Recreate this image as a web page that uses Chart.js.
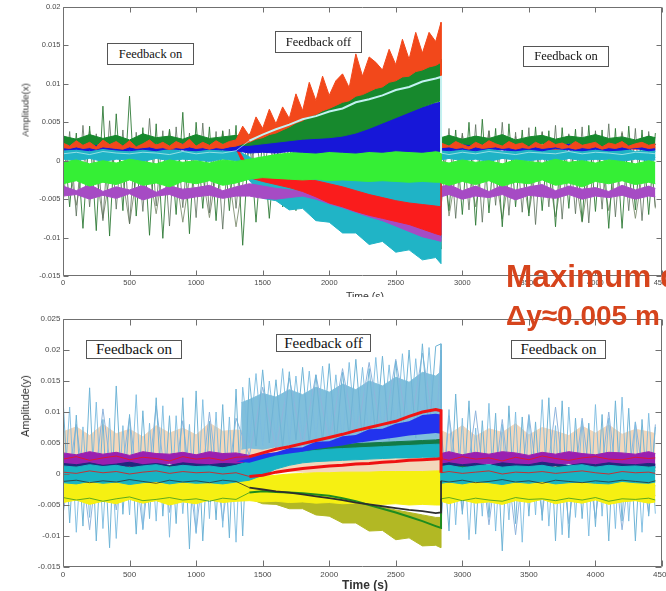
<!DOCTYPE html>
<html>
<head>
<meta charset="utf-8">
<script src="https://cdn.jsdelivr.net/npm/chart.js@4.4.0/dist/chart.umd.min.js"></script>
<style>
  html, body { margin: 0; padding: 0; background: #fff; }
  #page { position: relative; width: 666px; height: 591px; overflow: hidden; background: #fff;
          font-family: "Liberation Sans", Arial, sans-serif; }
  .panel { position: absolute; left: 0; width: 666px; }
  #topPanel { top: 0; height: 300px; z-index: 1; }
  #botPanel { top: 297px; height: 294px; z-index: 3; background: #fff; }
  .ylab { position: absolute; transform: translate(-50%, -50%) rotate(-90deg); white-space: nowrap; color: #333; }
  .note { position: absolute; box-sizing: border-box; border: 1px solid #555; background: #fff;
          font-family: "Liberation Serif", "Times New Roman", serif; color: #111;
          display: flex; align-items: center; justify-content: center; white-space: nowrap; }
  .red { position: absolute; color: #d6441c; font-weight: bold; white-space: nowrap; line-height: 1; z-index: 10; }
</style>
</head>
<body>
<div id="page">
  <div class="panel" id="topPanel"><canvas id="topChart"></canvas></div>
  <div class="ylab" style="left:25px;top:110px;font-size:9.5px;z-index:2">Amplitude(x)</div>
  <div style="position:absolute;left:365px;top:291px;transform:translateX(-50%);font-size:10.5px;line-height:1;color:#333;z-index:2">Time (s)</div>
  <div class="note" style="left:107px;top:43px;width:87px;height:22px;font-size:12.5px;z-index:2">Feedback on</div>
  <div class="note" style="left:275px;top:31px;width:87px;height:22px;font-size:12.5px;z-index:2">Feedback off</div>
  <div class="note" style="left:523px;top:46px;width:86px;height:21px;font-size:12.5px;z-index:2">Feedback on</div>

  <div class="panel" id="botPanel"><canvas id="botChart"></canvas></div>
  <div class="ylab" style="left:25px;top:406px;font-size:11px;z-index:4">Amplitude(y)</div>
  <div style="position:absolute;left:365px;top:579px;transform:translateX(-50%);font-size:12px;font-weight:bold;line-height:1;color:#333;z-index:4">Time (s)</div>
  <div class="note" style="left:86px;top:340px;width:96px;height:19px;font-size:15px;z-index:4">Feedback on</div>
  <div class="note" style="left:276px;top:334px;width:95px;height:18px;font-size:15px;z-index:4">Feedback off</div>
  <div class="note" style="left:511px;top:340px;width:95px;height:19px;font-size:15px;z-index:4">Feedback on</div>

  <div class="red" style="left:506px;top:261px;font-size:31.5px">Maximum deviation</div>
  <div class="red" style="left:506px;top:302px;font-size:28px">Δy≈0.005 m</div>
</div>

<script>
// time grids (s); 2840 appears twice: last point with feedback off, first point with feedback on again
const tFine = [0,50,100,150,200,250,300,350,400,450,500,550,600,650,700,750,800,850,900,950,1000,1050,1100,1150,1200,1250,1300,
  1350,1400,1450,1500,1550,1600,1650,1700,1750,1800,1850,1900,1950,2000,2050,2100,2150,2200,2250,2300,2350,2400,2450,2500,2550,2600,2650,2700,2750,2800,2840,
  2840,2900,2950,3000,3050,3100,3150,3200,3250,3300,3350,3400,3450,3500,3550,3600,3650,3700,3750,3800,3850,3900,3950,4000,4050,4100,4150,4200,4250,4300,4350,4400,4450];
const tCoarse = [0,100,200,300,400,500,600,700,800,900,1000,1100,1200,1300,
  1400,1500,1600,1700,1800,1900,2000,2100,2200,2300,2400,2500,2600,2700,2800,2840,
  2840,2900,3000,3100,3200,3300,3400,3500,3600,3700,3800,3900,4000,4100,4200,4300,4400,4450];
const tSky = [1340,1400,1500,1600,1700,1800,1900,2000,2100,2200,2300,2400,2500,2600,2700,2800,2840];

// axis ticks
const xTicks = [0,500,1000,1500,2000,2500,3000,3500,4000,4500];
const xTickLabels = ['0','500','1000','1500','2000','2500','3000','3500','4000','4500'];
const yTicksTop = [-15,-10,-5,0,5,10,15,20];
const yLabelsTop = ['-0.015','-0.01','-0.005','0','0.005','0.01','0.015','0.02'];
const yTicksBot = [-15,-10,-5,0,5,10,15,20,25];
const yLabelsBot = ['-0.015','-0.01','-0.005','0','0.005','0.01','0.015','0.02','0.025'];

// ---- Amplitude(x), values in 1e-3 ----
const paleX = [0.9,1.1,0.8,1.2,1.0,0.9,1.1,1.0,0.8,1.2,0.9,1.1,1.0,1.3,
  2.6,3.4,4.1,4.7,5.4,5.8,6.4,6.8,7.6,8.0,8.5,9.2,9.6,10.3,10.7,10.9,
  1.0,0.8,1.1,0.9,1.2,1.0,0.8,1.1,1.0,0.9,1.2,0.9,1.1,1.0,0.8,1.1,1.0,0.9];
const orangeHiX = [2.3,1.9,2.6,2.0,2.4,1.8,2.7,2.1,2.5,1.9,2.6,1.8,2.2,2.7,2.0,2.4,1.9,2.5,2.1,2.8,1.9,2.4,2.0,2.6,2.1,2.5,2.7,
  4.5,3.2,5.7,4.2,6.7,4.8,7.0,5.5,8.7,6.5,10.2,7.8,11.0,8.5,10.4,11.3,9.5,13.9,11.0,13.5,12.8,11.8,14.5,12.5,15.8,13.2,16.7,14.0,16.7,15.5,18.0,
  2.3,1.9,2.5,2.1,1.8,2.4,2.0,2.6,2.2,1.9,2.5,2.1,2.3,1.8,2.4,2.0,2.6,2.1,2.3,1.9,2.5,2.0,2.2,2.4,1.8,2.3,2.1,2.5,1.9,2.2,2.4,2.0,2.2];
const orangeLoX = [1.7,1.6,1.8,1.6,1.7,1.5,1.8,1.7,1.6,1.5,1.8,1.6,1.7,1.8,1.6,1.7,1.5,1.7,1.6,1.8,1.6,1.7,1.5,1.7,1.6,1.8,1.9,
  2.2,2.4,2.8,3.0,3.4,3.6,4.0,4.4,4.9,5.2,5.8,6.0,6.5,6.8,7.2,7.6,7.8,8.4,8.6,9.0,9.4,9.6,10.2,10.4,10.9,11.0,11.6,11.8,12.2,12.4,12.8,
  1.7,1.8,1.6,1.7,1.5,1.8,1.6,1.7,1.8,1.6,1.7,1.5,1.7,1.6,1.8,1.6,1.7,1.8,1.6,1.7,1.5,1.7,1.6,1.8,1.5,1.7,1.6,1.8,1.6,1.7,1.8,1.6,1.7];
const greenHiX = [3.2,2.8,3.4,2.9,3.3,2.7,3.5,3.0,3.2,2.8,3.4,2.9,3.1,3.3,
  2.9,3.5,4.1,4.9,5.7,6.5,7.3,8.1,8.9,9.5,10.1,10.9,11.5,12.3,12.9,13.2,
  3.0,3.3,2.8,3.2,2.9,3.4,2.7,3.1,3.3,2.8,3.2,3.0,3.4,2.9,3.1,2.7,3.2,3.0];
const greenLoX = [2.0,2.2,1.9,2.3,2.0,2.1,1.8,2.2,2.0,2.3,1.9,2.1,2.2,2.0,
  2.0,2.2,2.4,2.6,2.8,2.9,3.0,3.2,3.6,4.2,4.9,5.6,6.3,7.0,7.6,7.8,
  2.1,1.9,2.2,2.0,2.3,1.8,2.1,2.0,2.2,1.9,2.3,2.0,2.1,1.8,2.2,2.0,1.9,2.1];
const blueHiX = [2.1,1.9,2.3,1.8,2.2,2.0,2.3,1.9,2.1,2.2,1.8,2.2,2.0,2.1,
  2.6,2.8,2.9,3.0,3.1,3.2,3.3,3.4,3.8,4.4,5.0,5.7,6.4,7.0,7.5,7.6,
  2.2,1.9,2.1,2.3,1.8,2.2,2.0,2.3,1.9,2.1,2.2,2.0,2.2,1.8,2.1,2.3,1.9,2.1];
const blueLoX = [1.4,1.5,1.3,1.6,1.4,1.3,1.5,1.3,1.6,1.4,1.3,1.5,1.4,1.3,
  1.0,1.1,1.0,1.2,1.1,1.0,1.2,1.1,1.0,1.2,1.1,1.3,1.2,1.1,1.3,1.2,
  1.4,1.3,1.5,1.3,1.6,1.4,1.3,1.5,1.3,1.6,1.4,1.3,1.5,1.3,1.4,1.6,1.3,1.4];
const yellowHiX = [2.0,1.9,2.1,1.8,2.0,2.1,1.9,2.0,1.8,2.1,2.0,1.9,2.1,2.0,
  2.0,2.1,2.3,2.5,2.7,2.9,3.0,3.1,3.2,3.3,3.4,3.3,3.5,3.6,3.7,3.7,
  2.0,1.9,2.1,2.0,1.8,2.1,1.9,2.0,2.1,1.8,2.0,1.9,2.1,2.0,1.9,2.1,2.0,1.9];
const yellowLoX = [1.7,1.6,1.8,1.6,1.7,1.8,1.6,1.7,1.6,1.8,1.7,1.6,1.8,1.7,
  1.5,1.5,1.6,1.7,1.8,1.8,1.9,2.0,2.0,2.1,2.0,2.2,2.3,2.4,2.5,2.5,
  1.7,1.6,1.8,1.7,1.6,1.8,1.6,1.7,1.8,1.6,1.7,1.6,1.8,1.7,1.6,1.8,1.7,1.6];
const limeHiX = [-0.2,0.1,-0.4,0.0,-0.3,0.2,-0.1,-0.4,0.1,-0.2,0.0,-0.3,0.1,-0.1,
  0.2,0.5,0.8,1.0,1.2,1.3,1.2,1.4,1.3,1.5,1.4,1.5,1.4,1.6,1.5,1.5,
  -0.1,-0.3,0.1,-0.2,0.0,-0.4,0.1,-0.1,-0.3,0.2,-0.2,0.0,-0.3,0.1,-0.1,-0.4,0.0,-0.2];
const limeLoX = [-3.0,-2.6,-3.3,-2.8,-3.1,-2.5,-3.2,-2.9,-3.4,-2.7,-3.0,-2.6,-3.2,-2.9,
  -2.4,-2.2,-2.3,-2.4,-2.5,-2.4,-2.6,-2.5,-2.6,-2.7,-2.6,-2.7,-2.8,-2.7,-2.8,-2.8,
  -2.9,-3.2,-2.7,-3.1,-2.6,-3.3,-2.8,-3.0,-2.5,-3.2,-2.9,-3.4,-2.7,-3.0,-2.6,-3.1,-2.8,-3.0];
const redHiX = [2.0,1.8,2.1,1.9,2.2,1.8,2.0,2.1,1.9,2.2,1.8,2.0,2.1,1.9,
  -1.0,-1.4,-1.8,-2.0,-2.3,-2.6,-3.0,-3.4,-3.9,-4.4,-4.8,-5.2,-5.5,-5.7,-5.9,-6.0,
  1.9,2.1,1.8,2.0,2.2,1.9,2.1,1.8,2.0,2.2,1.9,2.0,2.1,1.8,2.2,1.9,2.0,2.1];
const redLoX = [1.5,1.6,1.5,1.6,1.5,1.6,1.5,1.6,1.5,1.6,1.5,1.6,1.5,1.6,
  -2.2,-2.7,-3.1,-3.5,-4.0,-4.7,-5.5,-6.0,-6.6,-7.1,-7.5,-7.9,-8.3,-8.9,-9.5,-9.7,
  1.6,1.5,1.6,1.5,1.6,1.5,1.6,1.5,1.6,1.5,1.6,1.5,1.6,1.5,1.6,1.5,1.6,1.5];
const cyanMidHiX = [1.2,1.4,1.1,1.5,1.3,1.1,1.4,1.2,1.5,1.1,1.3,1.4,1.2,1.3,
  -1.6,-2.0,-2.0,-2.1,-2.1,-2.2,-2.2,-2.3,-2.3,-2.4,-2.4,-2.5,-2.5,-2.6,-2.6,-2.6,
  1.3,1.1,1.4,1.2,1.5,1.1,1.3,1.4,1.2,1.5,1.1,1.3,1.4,1.2,1.5,1.1,1.3,1.2];
const cyanMidLoX = [0.4,0.2,0.5,0.1,0.4,0.3,0.1,0.5,0.2,0.4,0.3,0.1,0.4,0.2,
  -2.6,-2.8,-3.0,-3.2,-3.4,-3.6,-3.8,-4.0,-4.2,-4.6,-5.0,-5.3,-5.6,-5.9,-6.2,-6.3,
  0.3,0.5,0.2,0.4,0.1,0.3,0.5,0.2,0.4,0.1,0.3,0.5,0.2,0.4,0.1,0.3,0.2,0.4];
const magentaHiX = [-3.3,-3.9,-3.1,-4.0,-3.4,-3.8,-3.2,-4.1,-3.3,-3.7,-3.5,-3.2,-3.9,-3.4,
  -3.0,-3.3,-3.6,-3.8,-4.0,-4.6,-5.3,-5.8,-6.4,-7.0,-7.4,-7.8,-8.0,-8.2,-8.4,-8.5,
  -3.4,-3.1,-3.9,-3.3,-4.0,-3.2,-3.8,-3.4,-3.1,-3.9,-3.3,-3.7,-3.5,-4.0,-3.2,-3.8,-3.3,-3.6];
const magentaLoX = [-4.6,-4.4,-5.0,-4.5,-4.9,-4.3,-5.1,-4.6,-4.4,-5.0,-4.7,-4.5,-4.9,-4.6,
  -4.6,-4.9,-5.0,-4.8,-4.6,-5.0,-5.6,-6.1,-6.7,-7.3,-7.8,-8.5,-9.2,-9.9,-10.3,-10.5,
  -4.7,-4.4,-5.0,-4.6,-4.8,-4.4,-5.1,-4.5,-4.7,-4.9,-4.4,-5.0,-4.6,-4.8,-4.5,-5.0,-4.6,-4.7];
const tealHiX = [1.3,1.5,1.2,1.6,1.4,1.2,1.5,1.3,1.6,1.2,1.4,1.5,1.3,1.4,
  0.5,-1.0,-2.2,-3.0,-3.6,-4.3,-5.0,-5.6,-6.3,-6.9,-7.4,-7.8,-8.3,-8.9,-9.5,-9.8,
  1.4,1.2,1.5,1.3,1.6,1.2,1.4,1.5,1.3,1.6,1.2,1.4,1.5,1.3,1.6,1.2,1.4,1.3];
const tealLoX = [0.2,0.0,0.3,-0.1,0.2,0.1,-0.1,0.3,0.0,0.2,0.1,-0.1,0.2,0.0,
  -2.5,-4.9,-5.2,-6.4,-6.2,-7.8,-8.0,-9.4,-9.4,-10.9,-10.5,-11.9,-11.6,-12.9,-12.6,-13.4,
  0.1,0.3,0.0,0.2,-0.1,0.3,0.1,0.0,0.2,-0.1,0.3,0.0,0.2,0.1,-0.1,0.2,0.0,0.1];
const spikeX = [4.2,-6.0,3.6,-8.8,4.5,-9.1,7.1,-9.8,6.1,-6.5,8.4,-7.2,4.3,-9.7,4.8,-10.1,4.1,-7.0,6.3,-9.5,5.0,-6.2,4.4,-7.8,3.9,-6.5,4.6,
  -11.0,3.5,-8.0,3.0,-7.5,3.2,-6.0,3.0,-6.5,3.0,-6.0,2.8,-6.5,3.0,-7.0,3.0,-8.0,3.0,-8.5,3.0,-9.0,3.0,-9.5,3.0,-10.0,3.0,-10.5,3.0,-11.0,3.0,-11.5,
  3.8,-6.5,4.0,-7.0,5.0,-8.4,5.4,-6.8,4.2,-8.6,4.8,-6.0,4.0,-7.2,4.4,-6.5,3.9,-8.6,4.3,-6.2,4.1,-7.9,4.6,-6.6,4.0,-8.8,4.2,-8.8,4.5,-6.4,4.0,-7.0,3.6];
const spike2X = [3.4,-5.8,3.9,-7.5,3.2,-8.2,3.6,-6.9,4.0,-8.0,3.3,-7.4,3.8,-8.6,
  2.5,-4.5,2.5,-5.0,2.5,-5.5,2.5,-6.0,2.5,-7.0,2.5,-8.0,2.5,-9.0,2.5,-10.0,
  3.5,-7.2,3.4,-6.0,3.9,-7.6,3.2,-6.8,3.7,-7.3,3.3,-8.0,3.6,-6.5,3.8,-7.5,3.4,-6.2];
const spike3X = [-5.6,3.8,-7.2,4.6,-6.0,3.5,-7.8,5.2,-6.3,4.0,-8.2,3.7,-6.6,5.5,-5.9,3.9,-8.5,4.4,-6.1,3.6,-7.4,4.9,-6.8,3.8,-8.9,4.1,-6.2,
  3.0,-2.0,2.8,-2.5,3.0,-3.0,3.2,-3.2,3.5,-3.5,3.8,-4.0,4.0,-4.5,4.2,-5.0,4.5,-5.5,4.8,-6.0,5.0,-6.5,5.5,-7.0,6.0,-7.5,6.5,-8.0,7.0,-8.5,7.5,
  -6.0,4.2,-7.5,3.6,-6.4,4.7,-8.0,3.9,-5.8,5.0,-7.1,3.7,-6.7,4.3,-8.3,3.8,-6.0,4.6,-7.6,3.5,-6.9,4.4,-8.1,3.9,-6.3,4.8,-7.3,3.6,-6.5,4.2,-7.8,3.8,-6.0];

// ---- Amplitude(y), values in 1e-3 ----
const upperRedY = [2.4,2.8,2.2,2.6,2.9,2.3,2.7,2.5,2.1,2.8,2.4,2.6,2.2,2.7,
  2.8,3.4,4.0,4.4,4.9,5.4,5.9,6.4,7.0,7.5,8.0,8.5,9.3,10.0,10.4,10.2,
  2.5,2.2,2.8,2.4,2.6,2.1,2.7,2.3,2.9,2.5,2.2,2.6,2.8,2.4,2.3,2.7,2.5,2.6];
const blueHiY = [2.0,2.0,2.0,2.0,2.0,2.0,2.0,2.0,2.0,2.0,2.0,2.0,2.0,2.0,
  2.5,3.2,3.5,4.2,4.3,5.2,5.3,6.1,6.3,7.2,7.3,8.1,8.5,9.5,9.7,9.6,
  2.0,2.0,2.0,2.0,2.0,2.0,2.0,2.0,2.0,2.0,2.0,2.0,2.0,2.0,2.0,2.0,2.0,2.0];
const blueLoY = [2.0,2.0,2.0,2.0,2.0,2.0,2.0,2.0,2.0,2.0,2.0,2.0,2.0,2.0,
  1.8,2.4,3.0,3.3,3.6,4.0,4.3,4.6,5.0,5.3,5.6,5.9,6.2,6.4,6.6,6.5,
  2.0,2.0,2.0,2.0,2.0,2.0,2.0,2.0,2.0,2.0,2.0,2.0,2.0,2.0,2.0,2.0,2.0,2.0];
const lowerRedY = [0.3,0.1,0.5,0.2,0.4,0.0,0.3,0.5,0.1,0.4,0.2,0.3,0.0,0.2,
  -0.4,-0.2,0.3,0.6,0.9,1.1,1.3,1.4,1.6,1.7,1.9,2.0,2.2,2.3,2.4,2.5,
  0.2,0.4,0.1,0.3,0.5,0.0,0.3,0.2,0.4,0.1,0.3,0.5,0.2,0.0,0.4,0.2,0.3,0.1];
const darkY = [-1.2,-1.0,-1.4,-1.1,-1.3,-0.9,-1.2,-1.5,-1.0,-1.3,-1.1,-1.4,-1.0,-1.2,
  -2.2,-2.5,-2.8,-3.0,-3.3,-3.6,-3.9,-4.2,-4.6,-4.9,-5.2,-5.5,-5.8,-6.0,-6.3,-6.2,
  -1.1,-1.3,-1.0,-1.4,-1.2,-0.9,-1.3,-1.1,-1.5,-1.0,-1.2,-1.4,-1.1,-1.3,-1.0,-1.2,-1.4,-1.1];
const greenY = [-3.8,-4.2,-3.9,-4.4,-4.0,-3.7,-4.3,-4.1,-3.8,-4.2,-4.0,-4.4,-3.9,-4.1,
  -3.0,-2.8,-2.9,-3.0,-3.1,-3.3,-3.5,-3.9,-4.4,-5.0,-5.6,-6.2,-6.9,-7.6,-8.4,-8.7,
  -4.0,-3.8,-4.3,-3.9,-4.2,-4.4,-3.8,-4.1,-4.0,-4.3,-3.9,-4.2,-3.8,-4.4,-4.0,-4.1,-3.9,-4.2];
const tealHiY = [1.3,1.1,1.5,1.2,1.4,1.0,1.3,1.5,1.1,1.4,1.2,1.3,1.0,1.4,
  2.0,2.5,3.0,3.4,3.6,3.8,4.0,4.1,4.2,4.3,4.4,4.5,4.6,4.7,4.8,4.8,
  1.2,1.4,1.0,1.3,1.5,1.1,1.3,1.2,1.4,1.0,1.3,1.5,1.1,1.4,1.2,1.3,1.1,1.2];
const tealLoY = [-1.4,-1.6,-1.2,-1.5,-1.3,-1.7,-1.4,-1.2,-1.6,-1.3,-1.5,-1.4,-1.6,-1.3,
  -1.0,-0.2,0.8,1.4,1.8,2.0,2.1,2.2,2.3,2.4,2.5,2.6,2.6,2.7,2.7,2.7,
  -1.5,-1.3,-1.6,-1.2,-1.4,-1.7,-1.3,-1.5,-1.2,-1.6,-1.4,-1.3,-1.5,-1.6,-1.2,-1.4,-1.5,-1.3];
const dkGreenHiY = [1.0,1.1,0.9,1.2,1.0,1.1,0.9,1.0,1.2,1.0,0.9,1.1,1.0,1.2,
  2.2,2.8,3.2,3.6,4.0,4.3,4.5,4.7,4.9,5.0,5.1,5.2,5.3,5.4,5.5,5.6,
  1.1,1.0,1.2,0.9,1.1,1.0,1.2,1.0,0.9,1.1,1.2,1.0,1.1,0.9,1.0,1.2,1.1,1.0];
const dkGreenLoY = [0.5,0.6,0.4,0.6,0.5,0.4,0.6,0.5,0.4,0.6,0.5,0.4,0.6,0.5,
  1.5,2.0,2.5,2.9,3.2,3.4,3.5,3.6,3.7,3.8,3.8,3.9,3.9,4.0,4.0,4.0,
  0.5,0.4,0.6,0.5,0.4,0.6,0.5,0.4,0.6,0.5,0.4,0.6,0.5,0.4,0.6,0.5,0.4,0.5];
const navyHiY = [1.7,1.5,1.8,1.4,1.6,1.9,1.5,1.7,1.4,1.8,1.6,1.5,1.7,1.6,
  1.8,2.0,2.4,2.6,2.8,3.0,3.1,3.2,3.3,3.4,3.5,3.6,3.6,3.7,3.8,3.8,
  1.6,1.8,1.5,1.7,1.4,1.8,1.6,1.5,1.9,1.6,1.4,1.7,1.5,1.8,1.6,1.5,1.7,1.6];
const navyLoY = [1.0,1.2,0.9,1.1,1.0,1.3,0.9,1.1,1.0,1.2,0.9,1.0,1.1,1.0,
  1.0,1.4,1.8,2.0,2.2,2.4,2.5,2.6,2.7,2.8,2.9,3.0,3.0,3.1,3.2,3.2,
  1.1,0.9,1.2,1.0,1.1,0.9,1.2,1.0,1.1,1.3,1.0,0.9,1.2,1.0,1.1,1.0,0.9,1.1];
const purpleHiY = [3.4,3.1,3.6,3.2,3.5,3.0,3.6,3.3,3.2,3.5,3.1,3.6,3.3,3.4,
  3.0,3.2,3.4,3.6,3.6,3.8,3.8,4.0,4.0,4.2,4.2,4.3,4.4,4.4,4.5,4.5,
  3.3,3.6,3.1,3.5,3.2,3.6,3.4,3.0,3.5,3.2,3.6,3.3,3.1,3.5,3.4,3.2,3.6,3.3];
const purpleLoY = [1.5,1.3,1.7,1.4,1.6,1.2,1.5,1.4,1.7,1.3,1.6,1.4,1.5,1.3,
  1.4,1.6,1.8,2.0,2.2,2.3,2.4,2.5,2.6,2.7,2.7,2.8,2.9,3.0,3.0,3.0,
  1.4,1.6,1.3,1.5,1.7,1.4,1.6,1.2,1.5,1.4,1.7,1.3,1.5,1.6,1.4,1.3,1.5,1.4];
const yellowHiY = [-1.0,-0.8,-1.2,-0.9,-1.1,-0.7,-1.0,-1.2,-0.8,-1.1,-0.9,-1.0,-0.8,-1.1,
  -0.6,-0.4,-0.2,0.0,0.1,0.2,0.2,0.3,0.3,0.3,0.4,0.4,0.4,0.4,0.5,0.5,
  -0.9,-1.1,-0.8,-1.0,-1.2,-0.9,-1.1,-0.8,-1.0,-0.7,-1.1,-0.9,-1.2,-1.0,-0.8,-1.1,-0.9,-1.0];
const yellowLoY = [-4.6,-4.2,-4.9,-4.4,-4.8,-4.1,-4.7,-4.3,-5.0,-4.5,-4.8,-4.2,-4.6,-4.4,
  -4.3,-4.5,-4.4,-4.6,-4.5,-4.7,-4.6,-4.8,-4.7,-4.8,-4.9,-4.8,-5.0,-4.9,-5.0,-5.0,
  -4.4,-4.8,-4.2,-4.7,-4.5,-4.9,-4.3,-4.6,-4.1,-4.8,-4.4,-4.7,-4.2,-4.9,-4.5,-4.3,-4.7,-4.5];
const oliveHiY = [-2.0,-2.2,-1.9,-2.1,-2.3,-2.0,-2.2,-1.8,-2.1,-2.0,-2.3,-1.9,-2.2,-2.0,
  -2.5,-2.8,-3.0,-3.2,-3.5,-3.8,-4.0,-4.3,-4.6,-5.0,-5.4,-5.8,-6.2,-6.6,-7.0,-7.0,
  -2.1,-1.9,-2.2,-2.0,-2.3,-1.8,-2.1,-2.0,-2.2,-1.9,-2.1,-2.3,-2.0,-1.9,-2.2,-2.0,-2.1,-1.9];
const oliveLoY = [-3.5,-3.3,-3.6,-3.4,-3.2,-3.5,-3.7,-3.3,-3.5,-3.4,-3.6,-3.2,-3.5,-3.4,
  -4.0,-4.8,-4.9,-5.6,-5.6,-6.6,-6.8,-7.9,-7.9,-9.2,-9.1,-10.6,-10.3,-11.6,-11.5,-11.9,
  -3.4,-3.6,-3.3,-3.5,-3.2,-3.6,-3.4,-3.3,-3.5,-3.7,-3.3,-3.4,-3.6,-3.2,-3.5,-3.4,-3.3,-3.5];
const skyY = [12.3,-7.9,9.5,-8.4,13.9,-10.8,8.8,-11.9,14.2,-6.5,9.6,-9.7,10.2,-7.2,12.3,-6.8,9.4,-8.0,12.3,-12.1,13.4,-10.8,8.5,-7.4,11.2,-10.3,13.7,
  -10.0,15.5,4.5,16.8,5.0,15.2,4.2,16.5,5.5,17.2,4.8,16.0,5.2,17.8,4.6,16.4,5.8,18.5,5.0,17.0,6.0,19.0,5.4,18.2,6.2,20.0,5.8,21.0,6.5,20.6,21.0,
  8.0,-9.2,12.9,-6.5,11.8,-9.7,8.6,-7.0,9.8,-12.4,11.0,-8.0,9.2,-6.8,8.4,-7.5,12.3,-10.8,11.8,-10.3,9.0,-7.2,8.2,-8.5,9.6,-10.8,11.8,-7.6,10.6,-10.8,8.8,-6.8,7.6];
const sky2Y = [-6.2,10.8,-9.4,7.6,-7.0,11.6,-8.8,9.0,-10.4,7.8,-6.6,12.8,-9.0,8.2,-7.6,11.0,-10.2,9.4,-6.4,8.0,-9.6,12.0,-7.2,10.0,-8.6,9.2,-11.0,
  14.0,5.0,16.2,4.6,15.0,5.4,17.0,4.8,15.8,5.6,16.6,5.0,17.4,5.8,16.0,5.2,18.0,6.0,17.2,5.6,18.8,6.2,17.6,6.0,19.4,6.4,18.6,6.6,20.4,6.0,19.0,
  -7.0,10.4,-8.2,9.0,-10.6,7.4,-6.8,11.4,-9.2,8.0,-7.4,10.0,-11.0,9.4,-6.6,12.0,-8.4,7.8,-9.8,10.8,-7.0,8.6,-10.0,11.2,-6.8,9.0,-8.8,12.4,-7.6,8.4,-9.4,9.8,-6.4];
const steelY = [-6.5,8.0,-9.0,10.5,-5.8,9.2,-8.8,11.0,-6.2,8.6,-9.4,10.0,-7.6,9.0,
  3.0,14.0,4.0,15.5,4.5,16.0,5.0,17.0,5.2,18.0,5.5,18.5,6.0,19.5,6.0,20.0,
  -7.8,9.4,-6.0,10.2,-8.2,8.8,-9.8,9.6,-6.6,10.8,-8.0,9.0,-7.2,10.0,-9.0,8.4,-6.4,8.0];
const skyBandHiY = [11.5,12.0,13.0,12.4,13.6,12.8,14.0,13.2,14.5,13.6,15.0,14.2,15.6,14.8,16.4,15.8,16.5];
const skyBandLoY = [4.0,4.2,4.0,4.4,4.2,4.5,4.3,4.6,4.4,4.8,4.6,5.0,4.8,5.2,5.0,5.3,5.2];
const peachHiY = [6.8,7.6,6.2,8.0,6.5,7.2,6.0,7.8,6.6,7.4,6.3,8.2,6.9,7.1,
  6.8,6.4,6.6,6.2,6.5,6.3,6.6,6.4,6.7,6.5,6.8,6.6,6.9,6.7,7.0,6.8,
  7.0,6.4,7.8,6.1,7.3,6.7,8.1,6.3,7.5,6.9,6.2,7.7,6.6,7.9,6.4,7.2,6.8,6.5];
const peachLoY = [2.6,2.2,2.8,2.4,2.5,2.9,2.3,2.7,2.5,2.2,2.8,2.4,2.6,2.5,
  1.5,1.0,0.6,0.4,0.3,0.2,0.2,0.1,0.1,0.0,0.0,0.0,0.0,0.0,0.0,0.0,
  2.5,2.8,2.3,2.6,2.4,2.9,2.2,2.7,2.5,2.3,2.8,2.4,2.6,2.2,2.7,2.5,2.9,2.4];

function pts(ts, vs) { return vs.map((v, i) => ({ x: ts[i], y: v })); }

function isOff(c) { return c.p0.parsed.x >= 1340 && c.p1.parsed.x <= 2840; }

// earlier entries end up on top (Chart.js draws the last dataset first)
function addLine(list, ts, vs, color, wOff, wOn) {
  const ds = { data: pts(ts, vs), borderColor: color, borderWidth: wOff, fill: false, pointRadius: 0 };
  if (wOn != null) ds.segment = { borderWidth: c => isOff(c) ? wOff : wOn };
  list.push(ds);
}
function addBand(list, ts, hi, lo, color, edge) {
  const w = edge == null ? 1 : edge;
  const loIdx = list.length;
  list.push({ data: pts(ts, lo), borderColor: color, borderWidth: w, pointRadius: 0, fill: false });
  list.push({ data: pts(ts, hi), borderColor: color, borderWidth: w, pointRadius: 0,
              backgroundColor: color, fill: loIdx });
}

const framePlugin = {
  id: 'frame',
  afterDraw(chart, args, o) {
    const { ctx, chartArea: a } = chart;
    const xs = chart.scales.x, ys = chart.scales.y;
    const L = Math.round(a.left) + 0.5, R = Math.round(a.right) - 0.5;
    const T = Math.round(a.top) + 0.5, B = Math.round(a.bottom) - 0.5;
    ctx.save();
    ctx.strokeStyle = '#707070';
    ctx.lineWidth = 1;
    ctx.beginPath();
    ctx.rect(L, T, R - L, B - T);
    xTicks.forEach(v => {
      const p = Math.round(xs.getPixelForValue(v)) + 0.5;
      ctx.moveTo(p, B); ctx.lineTo(p, B - o.tick);
      ctx.moveTo(p, T); ctx.lineTo(p, T + o.tick);
    });
    o.yTicks.forEach(v => {
      const p = Math.round(ys.getPixelForValue(v)) + 0.5;
      ctx.moveTo(L, p); ctx.lineTo(L + o.tick, p);
      ctx.moveTo(R, p); ctx.lineTo(R - o.tick, p);
    });
    ctx.stroke();
    ctx.fillStyle = '#4a4a4a';
    ctx.font = o.font;
    ctx.textAlign = 'center';
    ctx.textBaseline = 'top';
    xTicks.forEach((v, i) => ctx.fillText(xTickLabels[i], xs.getPixelForValue(v), B + o.xGap));
    ctx.textAlign = 'right';
    ctx.textBaseline = 'middle';
    o.yTicks.forEach((v, i) => ctx.fillText(o.yLabels[i], L - 3, ys.getPixelForValue(v)));
    ctx.restore();
  }
};

function makeChart(id, datasets, yMin, yMax, padding, frame) {
  return new Chart(document.getElementById(id), {
    type: 'line',
    data: { datasets },
    options: {
      responsive: true,
      maintainAspectRatio: false,
      animation: false,
      events: [],
      layout: { padding },
      elements: { line: { tension: 0 }, point: { radius: 0 } },
      scales: {
        x: { type: 'linear', min: 0, max: 4500, display: false },
        y: { type: 'linear', min: yMin, max: yMax, display: false }
      },
      plugins: { legend: { display: false }, tooltip: { enabled: false }, frame }
    },
    plugins: [framePlugin]
  });
}

// top panel
const topSets = [];
addLine(topSets, tCoarse, paleX, '#c2f2f2', 2, 0.7);
addBand(topSets, tFine, orangeHiX, orangeLoX, '#f2481b');
addBand(topSets, tCoarse, greenHiX, greenLoX, '#17892d');
addBand(topSets, tCoarse, blueHiX, blueLoX, '#1717d8');
addBand(topSets, tCoarse, yellowHiX, yellowLoX, '#d3c21d');
addBand(topSets, tCoarse, limeHiX, limeLoX, '#35ef35');
addBand(topSets, tCoarse, redHiX, redLoX, '#fa1c1c');
addBand(topSets, tCoarse, cyanMidHiX, cyanMidLoX, '#1fb3c6');
addBand(topSets, tCoarse, magentaHiX, magentaLoX, '#a64bc4');
addBand(topSets, tCoarse, tealHiX, tealLoX, '#20b4c6');
addLine(topSets, tFine, spikeX, '#2f7a37', 0.9);
addLine(topSets, tFine, spike3X, '#5b6f5b', 0.8);
addLine(topSets, tCoarse, spike2X, '#7f8f72', 0.9);

makeChart('topChart', topSets, -15, 20, { left: 63, right: 4, top: 7, bottom: 24 },
  { yTicks: yTicksTop, yLabels: yLabelsTop, tick: 5, xGap: 4, font: '7.5px "Liberation Sans"' });

// bottom panel
const botSets = [];
addLine(botSets, tCoarse, upperRedY, '#f01515', 3, 0.8);
addBand(botSets, tCoarse, blueHiY, blueLoY, '#2233ee', 0);
addLine(botSets, tCoarse, lowerRedY, '#ee1111', 3, 0.8);
addLine(botSets, tCoarse, darkY, '#2e2e2e', 1.8, 0.8);
addLine(botSets, tCoarse, greenY, '#1e8c1e', 2, 0.7);
addBand(botSets, tCoarse, tealHiY, tealLoY, '#18b3c3');
addBand(botSets, tCoarse, dkGreenHiY, dkGreenLoY, '#137a46');
addBand(botSets, tCoarse, navyHiY, navyLoY, '#22287e');
addBand(botSets, tCoarse, purpleHiY, purpleLoY, '#9a20b0');
addBand(botSets, tCoarse, yellowHiY, yellowLoY, '#f6f012');
addBand(botSets, tCoarse, oliveHiY, oliveLoY, '#b2b824');
addLine(botSets, tFine, skyY, '#6fb4d6', 1);
addLine(botSets, tFine, sky2Y, '#7bbbe0', 0.9);
addLine(botSets, tCoarse, steelY, '#8fb4dc', 1);
addBand(botSets, tSky, skyBandHiY, skyBandLoY, '#80bfdb');
addBand(botSets, tCoarse, peachHiY, peachLoY, '#f3d7bb');

makeChart('botChart', botSets, -15, 25, { left: 63, right: 4, top: 22, bottom: 24 },
  { yTicks: yTicksBot, yLabels: yLabelsBot, tick: 6, xGap: 4, font: '8px "Liberation Sans"' });
</script>
</body>
</html>
